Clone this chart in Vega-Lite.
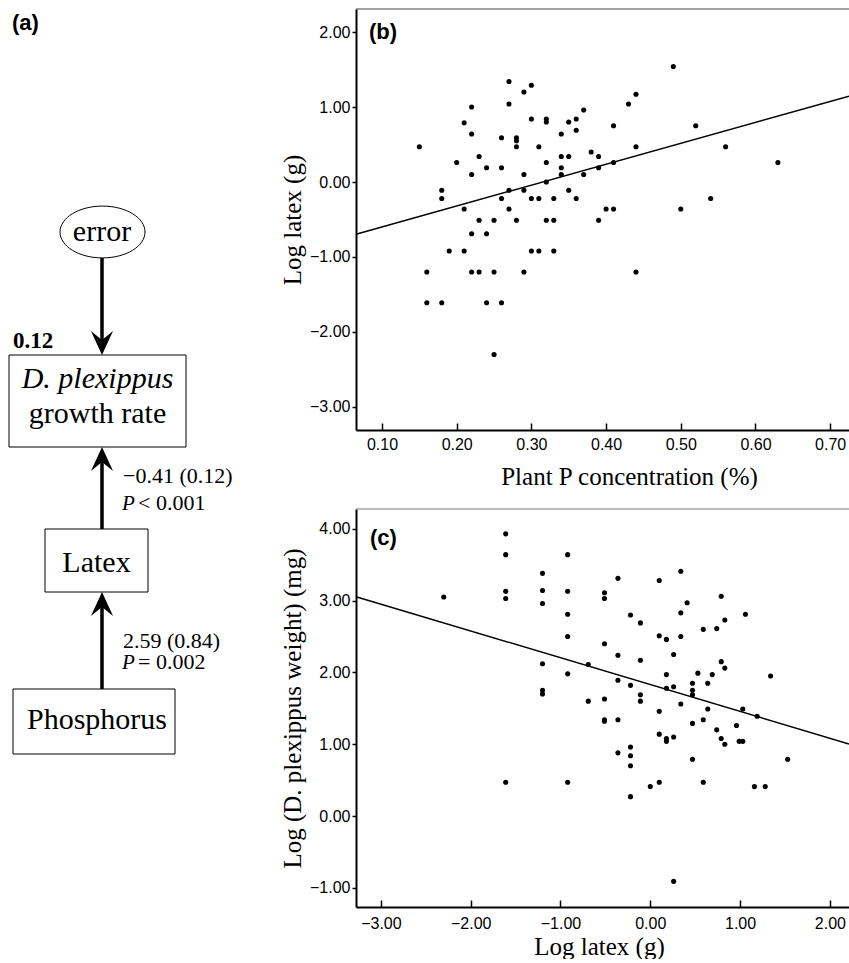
{
  "$schema": "https://vega.github.io/schema/vega-lite/v6.json",
  "padding": {"left": 0, "top": 8, "right": 0, "bottom": 0},
  "background": "white",
  "spacing": 5,
  "config": {
    "view": {"stroke": null},
    "axis": {
      "grid": false,
      "domainColor": "black", "domainWidth": 2,
      "tickColor": "black", "tickWidth": 1.5,
      "labelColor": "black", "labelFont": "Liberation Sans", "labelFontSize": 16,
      "titleColor": "black", "titleFont": "Liberation Serif", "titleFontSize": 25, "titleFontWeight": "normal"
    }
  },
  "hconcat": [
    {
      "width": 275,
      "height": 900,
      "layer": [
        {
          "data": {"values": [
            {"x1": 9, "x2": 186, "y1": 354, "y2": 446},
            {"x1": 45, "x2": 148, "y1": 528, "y2": 591},
            {"x1": 13, "x2": 175, "y1": 688, "y2": 753}
          ]},
          "mark": {"type": "rect", "fill": "white", "stroke": "black", "strokeWidth": 1},
          "encoding": {
            "x": {"field": "x1", "type": "quantitative", "scale": {"domain": [0, 275], "nice": false, "zero": false}, "axis": null},
            "x2": {"field": "x2"},
            "y": {"field": "y1", "type": "quantitative", "scale": {"domain": [8, 908], "nice": false, "zero": false, "reverse": true}, "axis": null},
            "y2": {"field": "y2"}
          }
        },
        {
          "data": {"values": [
            {"x": 102, "y1": 257, "y2": 342},
            {"x": 102, "y1": 458, "y2": 528},
            {"x": 102, "y1": 603, "y2": 688}
          ]},
          "mark": {"type": "rule", "color": "black", "strokeWidth": 3.5},
          "encoding": {
            "x": {"field": "x", "type": "quantitative", "scale": {"domain": [0, 275], "nice": false, "zero": false}, "axis": null},
            "y": {"field": "y1", "type": "quantitative", "scale": {"domain": [8, 908], "nice": false, "zero": false, "reverse": true}, "axis": null},
            "y2": {"field": "y2"}
          }
        },
        {
          "data": {"values": [{"x": 102, "y": 354}]},
          "mark": {"type": "point", "shape": "M 0 0 L -0.46 -1 L 0 -0.62 L 0.46 -1 Z", "size": 2304, "filled": true, "color": "black", "opacity": 1, "strokeWidth": 0},
          "encoding": {
            "x": {"field": "x", "type": "quantitative", "scale": {"domain": [0, 275], "nice": false, "zero": false}, "axis": null},
            "y": {"field": "y", "type": "quantitative", "scale": {"domain": [8, 908], "nice": false, "zero": false, "reverse": true}, "axis": null}
          }
        },
        {
          "data": {"values": [{"x": 102, "y": 446}, {"x": 102, "y": 591}]},
          "mark": {"type": "point", "shape": "M 0 0 L -0.46 1 L 0 0.62 L 0.46 1 Z", "size": 2304, "filled": true, "color": "black", "opacity": 1, "strokeWidth": 0},
          "encoding": {
            "x": {"field": "x", "type": "quantitative", "scale": {"domain": [0, 275], "nice": false, "zero": false}, "axis": null},
            "y": {"field": "y", "type": "quantitative", "scale": {"domain": [8, 908], "nice": false, "zero": false, "reverse": true}, "axis": null}
          }
        },
        {
          "data": {"values": [{"x": 102.5, "y": 231}]},
          "mark": {"type": "point", "shape": "M -1 0 A 1 0.61 0 1 0 1 0 A 1 0.61 0 1 0 -1 0 Z", "size": 7225, "filled": false, "stroke": "black", "strokeWidth": 1, "opacity": 1},
          "encoding": {
            "x": {"field": "x", "type": "quantitative", "scale": {"domain": [0, 275], "nice": false, "zero": false}, "axis": null},
            "y": {"field": "y", "type": "quantitative", "scale": {"domain": [8, 908], "nice": false, "zero": false, "reverse": true}, "axis": null}
          }
        },
        {
          "data": {"values": [
            {"x": 102, "y": 240, "t": "error"},
            {"x": 97.5, "y": 422, "t": "growth rate"},
            {"x": 96.5, "y": 571, "t": "Latex"},
            {"x": 97, "y": 728, "t": "Phosphorus"}
          ]},
          "mark": {"type": "text", "font": "Liberation Serif", "fontSize": 30, "align": "center", "baseline": "alphabetic", "color": "black"},
          "encoding": {
            "x": {"field": "x", "type": "quantitative", "scale": {"domain": [0, 275], "nice": false, "zero": false}, "axis": null},
            "y": {"field": "y", "type": "quantitative", "scale": {"domain": [8, 908], "nice": false, "zero": false, "reverse": true}, "axis": null},
            "text": {"field": "t"}
          }
        },
        {
          "data": {"values": [{"x": 97.5, "y": 387, "t": "D. plexippus"}]},
          "mark": {"type": "text", "font": "Liberation Serif", "fontSize": 30, "fontStyle": "italic", "align": "center", "baseline": "alphabetic", "color": "black"},
          "encoding": {
            "x": {"field": "x", "type": "quantitative", "scale": {"domain": [0, 275], "nice": false, "zero": false}, "axis": null},
            "y": {"field": "y", "type": "quantitative", "scale": {"domain": [8, 908], "nice": false, "zero": false, "reverse": true}, "axis": null},
            "text": {"field": "t"}
          }
        },
        {
          "data": {"values": [
            {"x": 123, "y": 482, "t": "−0.41 (0.12)"},
            {"x": 138, "y": 509, "t": "< 0.001"},
            {"x": 123, "y": 647, "t": "2.59 (0.84)"},
            {"x": 138, "y": 668, "t": "= 0.002"}
          ]},
          "mark": {"type": "text", "font": "Liberation Serif", "fontSize": 22, "align": "left", "baseline": "alphabetic", "color": "black"},
          "encoding": {
            "x": {"field": "x", "type": "quantitative", "scale": {"domain": [0, 275], "nice": false, "zero": false}, "axis": null},
            "y": {"field": "y", "type": "quantitative", "scale": {"domain": [8, 908], "nice": false, "zero": false, "reverse": true}, "axis": null},
            "text": {"field": "t"}
          }
        },
        {
          "data": {"values": [{"x": 122, "y": 509, "t": "P"}, {"x": 122, "y": 668, "t": "P"}]},
          "mark": {"type": "text", "font": "Liberation Serif", "fontSize": 21, "fontStyle": "italic", "align": "left", "baseline": "alphabetic", "color": "black"},
          "encoding": {
            "x": {"field": "x", "type": "quantitative", "scale": {"domain": [0, 275], "nice": false, "zero": false}, "axis": null},
            "y": {"field": "y", "type": "quantitative", "scale": {"domain": [8, 908], "nice": false, "zero": false, "reverse": true}, "axis": null},
            "text": {"field": "t"}
          }
        },
        {
          "data": {"values": [{"x": 13, "y": 347, "t": "0.12"}]},
          "mark": {"type": "text", "font": "Liberation Serif", "fontSize": 23, "fontWeight": "bold", "align": "left", "baseline": "alphabetic", "color": "black"},
          "encoding": {
            "x": {"field": "x", "type": "quantitative", "scale": {"domain": [0, 275], "nice": false, "zero": false}, "axis": null},
            "y": {"field": "y", "type": "quantitative", "scale": {"domain": [8, 908], "nice": false, "zero": false, "reverse": true}, "axis": null},
            "text": {"field": "t"}
          }
        },
        {
          "data": {"values": [{"x": 12, "y": 22, "t": "(a)"}]},
          "mark": {"type": "text", "font": "Liberation Sans", "fontSize": 22, "fontWeight": "bold", "align": "left", "baseline": "middle", "color": "black"},
          "encoding": {
            "x": {"field": "x", "type": "quantitative", "scale": {"domain": [0, 275], "nice": false, "zero": false}, "axis": null},
            "y": {"field": "y", "type": "quantitative", "scale": {"domain": [8, 908], "nice": false, "zero": false, "reverse": true}, "axis": null},
            "text": {"field": "t"}
          }
        }
      ]
    },
    {
      "spacing": 19,
      "vconcat": [
        {
          "width": 493,
          "height": 421,
          "layer": [
            {
              "data": {"values": [
                {"x": 0.15, "y": 0.47}, {"x": 0.27, "y": 1.34}, {"x": 0.30, "y": 1.29}, {"x": 0.29, "y": 1.20}, {"x": 0.49, "y": 1.54},
                {"x": 0.27, "y": 1.04}, {"x": 0.22, "y": 1.00}, {"x": 0.43, "y": 1.04}, {"x": 0.44, "y": 1.17}, {"x": 0.37, "y": 0.96},
                {"x": 0.30, "y": 0.84}, {"x": 0.32, "y": 0.84}, {"x": 0.32, "y": 0.80}, {"x": 0.35, "y": 0.80}, {"x": 0.36, "y": 0.84},
                {"x": 0.36, "y": 0.69}, {"x": 0.21, "y": 0.79}, {"x": 0.22, "y": 0.64}, {"x": 0.41, "y": 0.75}, {"x": 0.52, "y": 0.75},
                {"x": 0.26, "y": 0.59}, {"x": 0.28, "y": 0.59}, {"x": 0.28, "y": 0.55}, {"x": 0.28, "y": 0.47}, {"x": 0.34, "y": 0.64},
                {"x": 0.31, "y": 0.47}, {"x": 0.44, "y": 0.47}, {"x": 0.56, "y": 0.47}, {"x": 0.38, "y": 0.40}, {"x": 0.23, "y": 0.34},
                {"x": 0.34, "y": 0.34}, {"x": 0.35, "y": 0.34}, {"x": 0.39, "y": 0.34}, {"x": 0.20, "y": 0.26}, {"x": 0.32, "y": 0.26},
                {"x": 0.41, "y": 0.26}, {"x": 0.63, "y": 0.26}, {"x": 0.24, "y": 0.19}, {"x": 0.26, "y": 0.19}, {"x": 0.34, "y": 0.19},
                {"x": 0.39, "y": 0.19}, {"x": 0.22, "y": 0.10}, {"x": 0.29, "y": 0.10}, {"x": 0.34, "y": 0.10}, {"x": 0.37, "y": 0.10},
                {"x": 0.32, "y": 0.00}, {"x": 0.18, "y": -0.11}, {"x": 0.27, "y": -0.11}, {"x": 0.29, "y": -0.11}, {"x": 0.35, "y": -0.11},
                {"x": 0.18, "y": -0.22}, {"x": 0.26, "y": -0.22}, {"x": 0.30, "y": -0.22}, {"x": 0.31, "y": -0.22}, {"x": 0.33, "y": -0.22},
                {"x": 0.36, "y": -0.22}, {"x": 0.54, "y": -0.22}, {"x": 0.21, "y": -0.36}, {"x": 0.27, "y": -0.36}, {"x": 0.40, "y": -0.36},
                {"x": 0.41, "y": -0.36}, {"x": 0.50, "y": -0.36}, {"x": 0.23, "y": -0.51}, {"x": 0.25, "y": -0.51}, {"x": 0.28, "y": -0.51},
                {"x": 0.32, "y": -0.51}, {"x": 0.33, "y": -0.51}, {"x": 0.39, "y": -0.51}, {"x": 0.22, "y": -0.69}, {"x": 0.24, "y": -0.69},
                {"x": 0.19, "y": -0.92}, {"x": 0.21, "y": -0.92}, {"x": 0.30, "y": -0.92}, {"x": 0.31, "y": -0.92}, {"x": 0.33, "y": -0.92},
                {"x": 0.16, "y": -1.20}, {"x": 0.22, "y": -1.20}, {"x": 0.23, "y": -1.20}, {"x": 0.25, "y": -1.20}, {"x": 0.29, "y": -1.20},
                {"x": 0.44, "y": -1.20}, {"x": 0.16, "y": -1.61}, {"x": 0.18, "y": -1.61}, {"x": 0.24, "y": -1.61}, {"x": 0.26, "y": -1.61},
                {"x": 0.25, "y": -2.30}
              ]},
              "mark": {"type": "circle", "size": 26, "color": "black", "opacity": 1},
              "encoding": {
                "x": {"field": "x", "type": "quantitative", "scale": {"domain": [0.0652, 0.7252], "nice": false, "zero": false},
                  "axis": {"values": [0.1, 0.2, 0.3, 0.4, 0.5, 0.6, 0.7], "format": ".2f", "title": "Plant P concentration (%)", "tickSize": -7, "labelPadding": 13, "titlePadding": 12, "titleX": 273, "titleAlign": "center"}},
                "y": {"field": "y", "type": "quantitative", "scale": {"domain": [-3.307, 2.307], "nice": false, "zero": false},
                  "axis": {"values": [-3, -2, -1, 0, 1, 2], "format": ".2f", "title": "Log latex (g)", "tickSize": 4, "labelPadding": 2, "titlePadding": 4}}
              }
            },
            {
              "data": {"values": [{"x": 0.0652, "y": -0.696}, {"x": 0.7252, "y": 1.144}]},
              "mark": {"type": "line", "color": "black", "strokeWidth": 1.5},
              "encoding": {
                "x": {"field": "x", "type": "quantitative"},
                "y": {"field": "y", "type": "quantitative"}
              }
            },
            {
              "data": {"values": [{"y": 2.307}]},
              "mark": {"type": "rule", "color": "#444", "strokeWidth": 1},
              "encoding": {"y": {"field": "y", "type": "quantitative"}}
            },
            {
              "data": {"values": [{"x": 0.0826, "y": 2.0, "t": "(b)"}]},
              "mark": {"type": "text", "font": "Liberation Sans", "fontSize": 22, "fontWeight": "bold", "align": "left", "baseline": "middle", "color": "black"},
              "encoding": {
                "x": {"field": "x", "type": "quantitative"},
                "y": {"field": "y", "type": "quantitative"},
                "text": {"field": "t"}
              }
            }
          ]
        },
        {
          "width": 493,
          "height": 398,
          "layer": [
            {
              "data": {"values": [
                {"x": -2.30, "y": 3.05},
                {"x": -1.61, "y": 3.93}, {"x": -1.61, "y": 3.64}, {"x": -1.61, "y": 3.13}, {"x": -1.61, "y": 3.03}, {"x": -1.61, "y": 0.47},
                {"x": -1.20, "y": 3.38}, {"x": -1.20, "y": 3.14}, {"x": -1.20, "y": 2.96}, {"x": -1.20, "y": 2.12}, {"x": -1.20, "y": 1.75}, {"x": -1.20, "y": 1.70},
                {"x": -0.92, "y": 3.64}, {"x": -0.92, "y": 3.13}, {"x": -0.92, "y": 2.81}, {"x": -0.92, "y": 2.50}, {"x": -0.92, "y": 1.98}, {"x": -0.92, "y": 0.47},
                {"x": -0.69, "y": 2.11}, {"x": -0.69, "y": 1.60},
                {"x": -0.51, "y": 3.11}, {"x": -0.51, "y": 3.03}, {"x": -0.51, "y": 2.40}, {"x": -0.51, "y": 1.63}, {"x": -0.51, "y": 1.34}, {"x": -0.51, "y": 1.32},
                {"x": -0.36, "y": 3.31}, {"x": -0.36, "y": 2.24}, {"x": -0.36, "y": 1.89}, {"x": -0.36, "y": 1.34}, {"x": -0.36, "y": 0.88},
                {"x": -0.22, "y": 2.80}, {"x": -0.22, "y": 1.82}, {"x": -0.22, "y": 0.96}, {"x": -0.22, "y": 0.84}, {"x": -0.22, "y": 0.70}, {"x": -0.22, "y": 0.27},
                {"x": -0.11, "y": 2.69}, {"x": -0.11, "y": 2.17}, {"x": -0.11, "y": 1.69}, {"x": -0.11, "y": 1.60},
                {"x": 0.0, "y": 0.41},
                {"x": 0.10, "y": 3.28}, {"x": 0.10, "y": 2.51}, {"x": 0.10, "y": 1.46}, {"x": 0.10, "y": 1.14}, {"x": 0.10, "y": 0.47},
                {"x": 0.18, "y": 2.46}, {"x": 0.18, "y": 1.97}, {"x": 0.18, "y": 1.78}, {"x": 0.18, "y": 1.08}, {"x": 0.18, "y": 1.04},
                {"x": 0.26, "y": 2.25}, {"x": 0.26, "y": 1.80}, {"x": 0.26, "y": 1.10}, {"x": 0.26, "y": -0.91},
                {"x": 0.34, "y": 3.41}, {"x": 0.34, "y": 2.83}, {"x": 0.34, "y": 2.50}, {"x": 0.34, "y": 1.56},
                {"x": 0.41, "y": 2.97},
                {"x": 0.47, "y": 1.85}, {"x": 0.47, "y": 1.75}, {"x": 0.47, "y": 1.69}, {"x": 0.47, "y": 1.29}, {"x": 0.47, "y": 0.79},
                {"x": 0.53, "y": 1.99},
                {"x": 0.59, "y": 2.60}, {"x": 0.59, "y": 1.34}, {"x": 0.59, "y": 0.47},
                {"x": 0.64, "y": 1.85}, {"x": 0.64, "y": 1.49},
                {"x": 0.69, "y": 1.97},
                {"x": 0.74, "y": 2.61}, {"x": 0.74, "y": 1.20},
                {"x": 0.79, "y": 3.06}, {"x": 0.79, "y": 2.15}, {"x": 0.79, "y": 1.08},
                {"x": 0.83, "y": 2.73}, {"x": 0.83, "y": 2.06}, {"x": 0.83, "y": 1.00},
                {"x": 0.96, "y": 1.26},
                {"x": 0.99, "y": 1.04}, {"x": 1.03, "y": 1.04}, {"x": 1.03, "y": 1.49},
                {"x": 1.06, "y": 2.81},
                {"x": 1.16, "y": 0.41}, {"x": 1.19, "y": 1.39}, {"x": 1.28, "y": 0.41}, {"x": 1.34, "y": 1.95}, {"x": 1.53, "y": 0.79}
              ]},
              "mark": {"type": "circle", "size": 26, "color": "black", "opacity": 1},
              "encoding": {
                "x": {"field": "x", "type": "quantitative", "scale": {"domain": [-3.277, 2.213], "nice": false, "zero": false},
                  "axis": {"values": [-3, -2, -1, 0, 1, 2], "format": ".2f", "title": "Log latex (g)", "tickSize": -7, "labelPadding": 15, "titlePadding": 3, "titleX": 243, "titleAlign": "center"}},
                "y": {"field": "y", "type": "quantitative", "scale": {"domain": [-1.267, 4.276], "nice": false, "zero": false},
                  "axis": {"values": [-1, 0, 1, 2, 3, 4], "format": ".2f", "title": "Log (D. plexippus weight) (mg)", "tickSize": 4, "labelPadding": 2, "titlePadding": 4}}
              }
            },
            {
              "data": {"values": [{"x": -3.277, "y": 3.055}, {"x": 2.213, "y": 1.004}]},
              "mark": {"type": "line", "color": "black", "strokeWidth": 1.5},
              "encoding": {
                "x": {"field": "x", "type": "quantitative"},
                "y": {"field": "y", "type": "quantitative"}
              }
            },
            {
              "data": {"values": [{"y": 4.276}]},
              "mark": {"type": "rule", "color": "#777", "strokeWidth": 1},
              "encoding": {"y": {"field": "y", "type": "quantitative"}}
            },
            {
              "data": {"values": [{"x": -3.121, "y": 3.87, "t": "(c)"}]},
              "mark": {"type": "text", "font": "Liberation Sans", "fontSize": 22, "fontWeight": "bold", "align": "left", "baseline": "middle", "color": "black"},
              "encoding": {
                "x": {"field": "x", "type": "quantitative"},
                "y": {"field": "y", "type": "quantitative"},
                "text": {"field": "t"}
              }
            }
          ]
        }
      ]
    }
  ]
}
